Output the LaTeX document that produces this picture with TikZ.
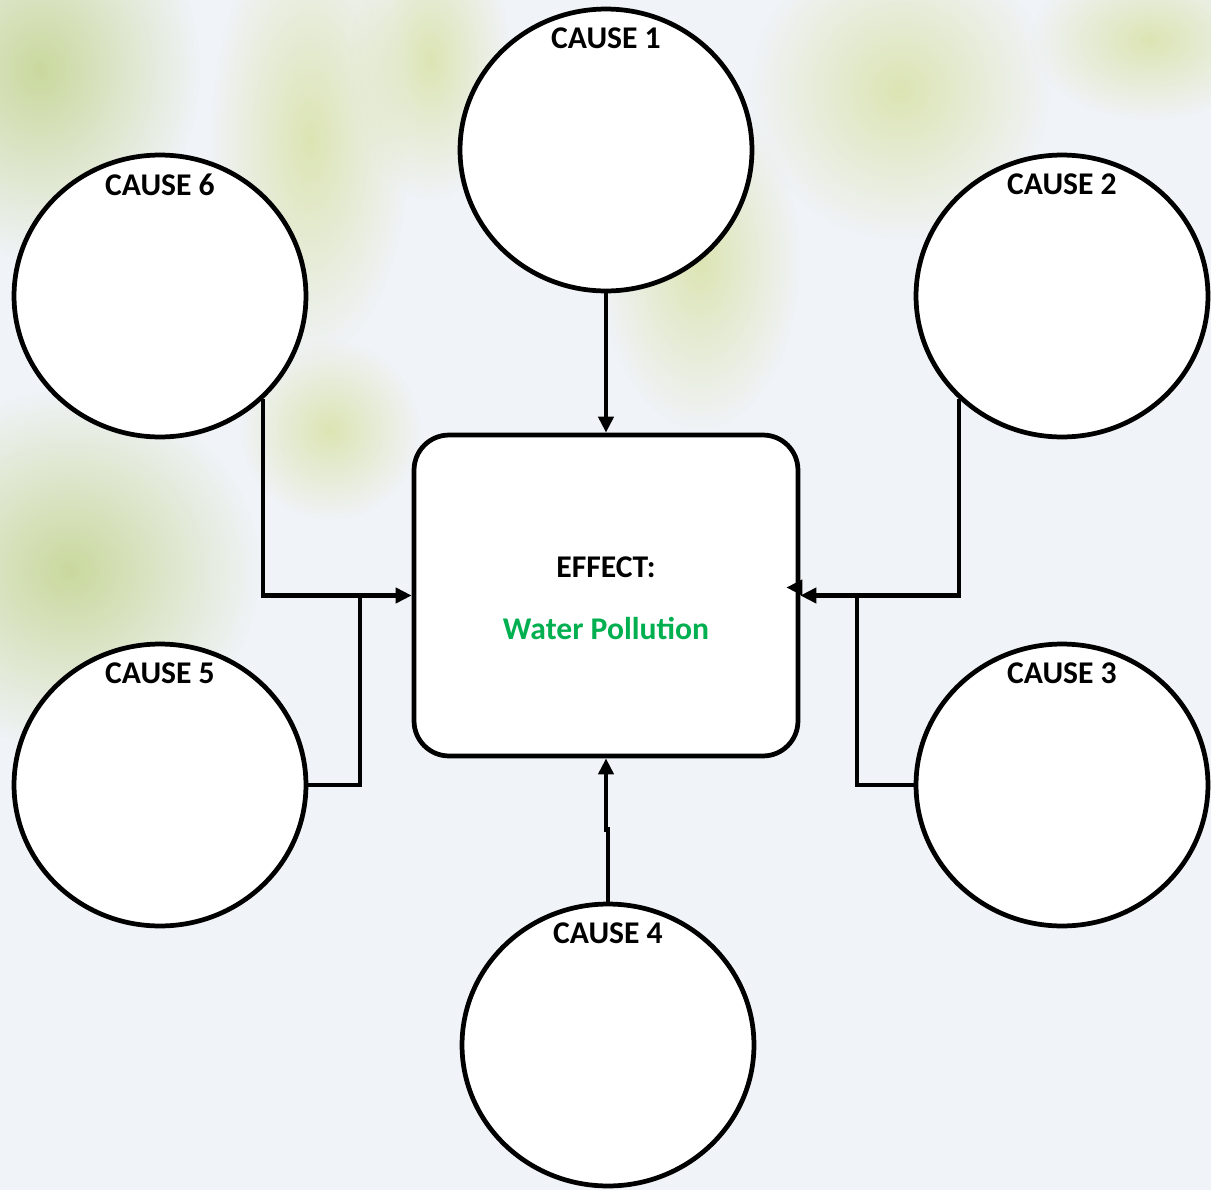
\documentclass[tikz,border=0pt]{standalone}
\usepackage{fontspec}
\setmainfont{Carlito}
\usetikzlibrary{shapes.geometric,arrows.meta,positioning,calc,fadings}
\definecolor{bgcol}{HTML}{F0F3F7}
\definecolor{leaf}{HTML}{C3D48E}
\definecolor{leaflight}{HTML}{D9E2A8}
\definecolor{wpgreen}{HTML}{00B050}
\tikzfading[name=softblob, inner color=transparent!0, outer color=transparent!100]
\tikzstyle{cause} = [ellipse, minimum width=5.84cm, minimum height=5.64cm, draw=black, line width=2.7pt, fill=white]
\tikzstyle{causelbl} = [inner sep=0pt, font=\fontsize{18}{20}\selectfont\bfseries]
\tikzstyle{effect} = [rectangle, rounded corners=0.7cm, minimum width=7.68cm, minimum height=6.42cm, draw=black, line width=2.7pt, fill=white]
\tikzstyle{efftxt} = [inner sep=0pt, font=\fontsize{18}{20}\selectfont\bfseries]
\tikzstyle{arrow} = [line width=2.6pt, -{Triangle[length=0.32cm, width=0.3cm]}]
\tikzstyle{link} = [line width=2.6pt]
\tikzstyle{blob} = [path fading=softblob, opacity=0.85]
\begin{document}
\begin{tikzpicture}[x=0.02cm, y=-0.02cm]

% background
\fill[bgcol] (0,0) rectangle (1211,1190);
\useasboundingbox (0,0) rectangle (1211,1190);
\fill[leaf, blob] (40,70) ellipse (160 and 190);
\fill[leaflight, blob] (310,140) ellipse (100 and 220);
\fill[leaflight, blob] (430,60) ellipse (80 and 140);
\fill[leaflight, blob] (900,90) ellipse (150 and 150);
\fill[leaflight, blob] (1150,40) ellipse (120 and 80);
\fill[leaf, blob] (70,570) ellipse (190 and 180);
\fill[leaflight, blob] (700,260) ellipse (100 and 170);
\fill[leaflight, blob] (330,430) ellipse (90 and 90);

% causes
\node (c1) [cause] at (606,150) {};
\node (c2) [cause] at (1062,296) {};
\node (c3) [cause] at (1062,785) {};
\node (c4) [cause] at (608,1045) {};
\node (c5) [cause] at (160,785) {};
\node (c6) [cause] at (160,296) {};

\node [causelbl, below=0.42cm of c1.north] {CAUSE 1};
\node [causelbl, below=0.42cm of c2.north] {CAUSE 2};
\node [causelbl, below=0.42cm of c3.north] {CAUSE 3};
\node [causelbl, below=0.42cm of c4.north] {CAUSE 4};
\node [causelbl, below=0.42cm of c5.north] {CAUSE 5};
\node [causelbl, below=0.42cm of c6.north] {CAUSE 6};

% effect
\node (box) [effect] at (606,595.5) {};
\node (eff) [efftxt] at (606,567) {EFFECT:};
\node (wp) [efftxt, text=wpgreen] at (606,628) {Water Pollution};

\coordinate (jl) at (360,596);
\coordinate (jr) at (857,596);

%arrows
\draw [arrow] (c1) -- (box);
\draw [arrow] (c4.north) -- ++(0,-72) -| (box.south);
\draw [arrow] (c6.-45) |- (box.west);
\draw [link] (c5.east) -| (jl);
\draw [arrow] (c2.-135) |- (box.east);
\draw [link] (c3.west) -| (jr);
\draw [arrow] ($(box.east)+(0,-8)$) -- ++(-14,0);

\end{tikzpicture}
\end{document}
